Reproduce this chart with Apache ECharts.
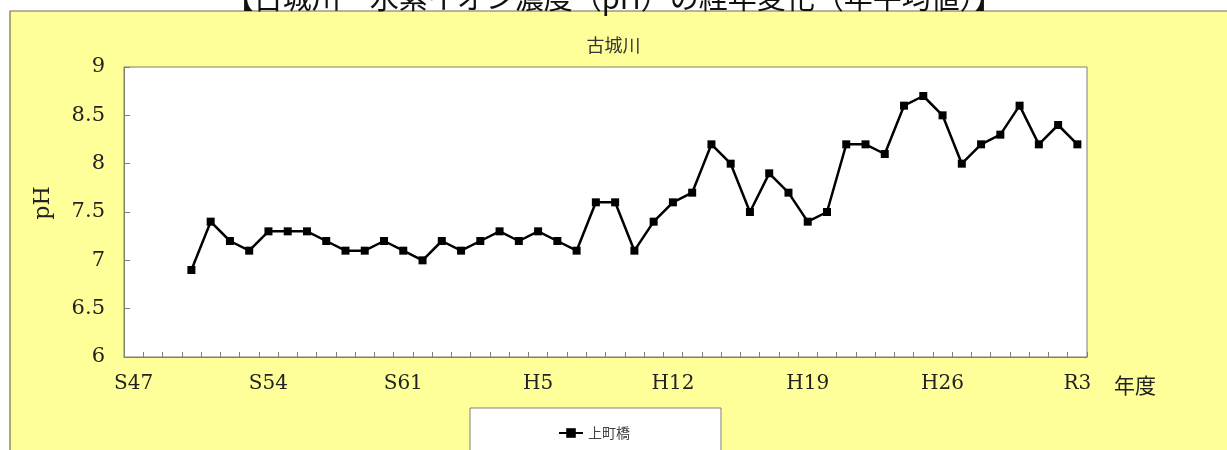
<!DOCTYPE html>
<html>
<head>
<meta charset="utf-8">
<script src="https://cdn.jsdelivr.net/npm/echarts@6/dist/echarts.min.js"></script>
<style>
html,body{margin:0;padding:0;background:#fff;}
#c{width:1227px;height:450px;}
</style>
</head>
<body>
<div id="c"></div>
<script>
// Fiscal years S47 (1972) .. R3 (2021)
const categories = [
  'S47','S48','S49','S50','S51','S52','S53','S54','S55','S56',
  'S57','S58','S59','S60','S61','S62','S63','H1','H2','H3',
  'H4','H5','H6','H7','H8','H9','H10','H11','H12','H13',
  'H14','H15','H16','H17','H18','H19','H20','H21','H22','H23',
  'H24','H25','H26','H27','H28','H29','H30','R1','R2','R3'
];
// pH annual averages at 上町橋 (no data S47–S49)
const kamimachiValues = [
  null, null, null, 6.9, 7.4, 7.2, 7.1, 7.3, 7.3, 7.3,
  7.2, 7.1, 7.1, 7.2, 7.1, 7.0, 7.2, 7.1, 7.2, 7.3,
  7.2, 7.3, 7.2, 7.1, 7.6, 7.6, 7.1, 7.4, 7.6, 7.7,
  8.2, 8.0, 7.5, 7.9, 7.7, 7.4, 7.5, 8.2, 8.2, 8.1,
  8.6, 8.7, 8.5, 8.0, 8.2, 8.3, 8.6, 8.2, 8.4, 8.2
];
const seriesName = '上町橋';
const chartTitle = '古城川';
const pageTitle = '【古城川　水素イオン濃度（pH）の経年変化（年平均値）】';
const yAxisTitle = 'pH';
const xAxisTitle = '年度';

const serif = '"DejaVu Serif", "Liberation Serif", serif';
const cjk = '"Noto Sans CJK JP", "Noto Sans", sans-serif';
const axisColor = '#808070';

const chart = echarts.init(document.getElementById('c'), null, {renderer: 'canvas'});
chart.setOption({
  animation: false,
  backgroundColor: '#ffffff',
  title: {
    text: chartTitle,
    left: 'center',
    top: 31,
    textStyle: {fontFamily: cjk, fontSize: 18, fontWeight: 'normal', color: '#333'}
  },
  legend: {
    left: 470,
    top: 408,
    itemWidth: 24,
    itemHeight: 12,
    itemGap: 5,
    padding: [18, 91, 40, 88],
    backgroundColor: '#ffffff',
    borderColor: axisColor,
    borderWidth: 1,
    borderRadius: 0,
    textStyle: {fontFamily: cjk, fontSize: 14, color: '#444'},
    data: [seriesName]
  },
  graphic: [
    {
      type: 'rect', z: -10, silent: true,
      shape: {x: 10, y: 11, width: 1400, height: 600},
      style: {fill: '#FFFF99', stroke: '#6e6e50', lineWidth: 1.2}
    },
    {
      type: 'text', z: 5, silent: true,
      style: {
        text: pageTitle, x: 614, y: 12, textAlign: 'center', textVerticalAlign: 'bottom',
        fontFamily: cjk, fontSize: 29, fill: '#111'
      }
    },
    {
      type: 'text', z: 5, silent: true,
      rotation: Math.PI / 2,
      x: 43, y: 203,
      style: {
        text: yAxisTitle, x: 0, y: 0, textAlign: 'center', textVerticalAlign: 'middle',
        fontFamily: serif, fontSize: 22, fill: '#222'
      }
    },
    {
      type: 'text', z: 5, silent: true,
      style: {
        text: xAxisTitle, x: 1135, y: 385, textAlign: 'center', textVerticalAlign: 'middle',
        fontFamily: cjk, fontSize: 21, fill: '#222'
      }
    }
  ],
  grid: {
    left: 124, right: 140, top: 67, bottom: 93,
    show: true, backgroundColor: '#ffffff', borderColor: axisColor, borderWidth: 1
  },
  xAxis: {
    type: 'category',
    data: categories,
    boundaryGap: true,
    axisLine: {lineStyle: {color: axisColor, width: 1}},
    axisTick: {show: true, inside: true, length: 5, interval: 0, lineStyle: {color: axisColor}},
    axisLabel: {
      interval: 6, margin: 17,
      fontFamily: serif, fontSize: 20, color: '#222'
    },
    splitLine: {show: false}
  },
  yAxis: {
    type: 'value',
    min: 6, max: 9, interval: 0.5,
    axisLine: {show: true, lineStyle: {color: axisColor, width: 1}},
    axisTick: {show: true, inside: true, length: 6, lineStyle: {color: axisColor}},
    axisLabel: {margin: 19, fontFamily: serif, fontSize: 21, color: '#222'},
    splitLine: {show: false}
  },
  series: [{
    name: seriesName,
    type: 'line',
    data: kamimachiValues,
    connectNulls: false,
    symbol: 'rect',
    symbolSize: 8,
    showAllSymbol: true,
    lineStyle: {color: '#000', width: 2.5},
    itemStyle: {color: '#000'}
  }]
});
</script>
</body>
</html>
